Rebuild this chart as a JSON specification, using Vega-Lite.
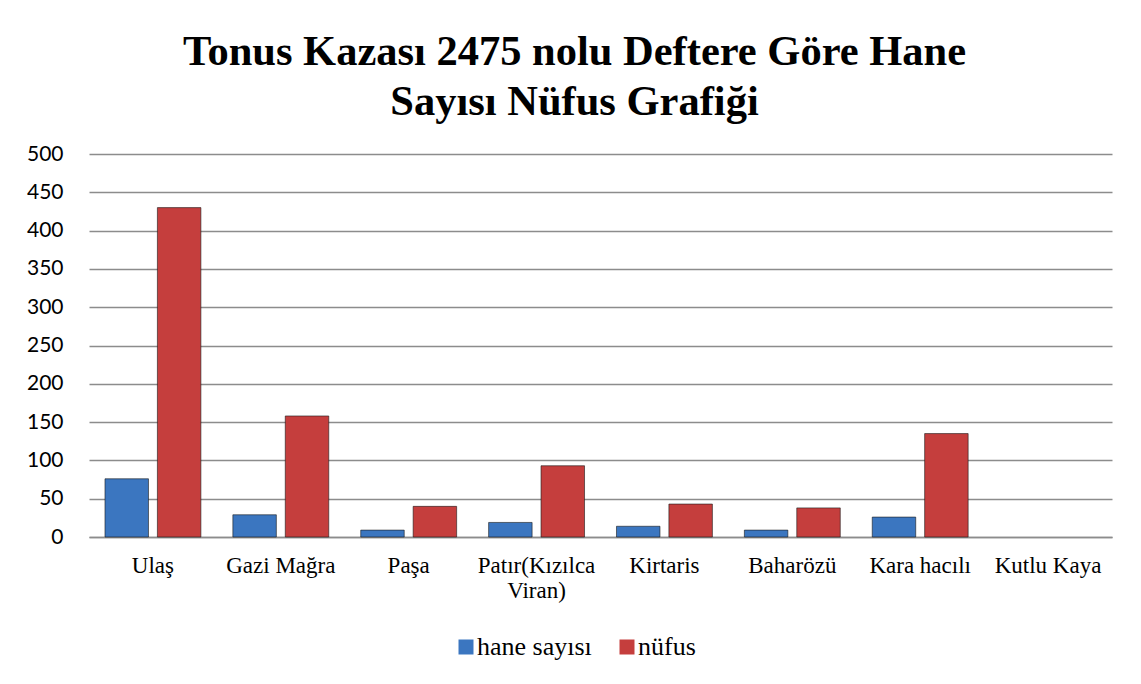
{
  "$schema": "https://vega.github.io/schema/vega-lite/v6.json",
  "width": 1023,
  "height": 383,
  "padding": {"left": 26, "top": 30, "right": 29, "bottom": 20},
  "background": "white",
  "title": {
    "text": ["Tonus Kazası 2475 nolu Deftere Göre Hane", "Sayısı Nüfus Grafiği"],
    "font": "Liberation Serif",
    "fontSize": 42.5,
    "fontWeight": "bold",
    "color": "black",
    "lineHeight": 50,
    "offset": 20,
    "dx": -26
  },
  "data": {
    "values": [
      {"koy": "Ulaş", "seri": "hane sayısı", "deger": 76},
      {"koy": "Ulaş", "seri": "nüfus", "deger": 430},
      {"koy": "Gazi Mağra", "seri": "hane sayısı", "deger": 29},
      {"koy": "Gazi Mağra", "seri": "nüfus", "deger": 158},
      {"koy": "Paşa", "seri": "hane sayısı", "deger": 9},
      {"koy": "Paşa", "seri": "nüfus", "deger": 40},
      {"koy": "Patır(Kızılca Viran)", "seri": "hane sayısı", "deger": 19},
      {"koy": "Patır(Kızılca Viran)", "seri": "nüfus", "deger": 93},
      {"koy": "Kirtaris", "seri": "hane sayısı", "deger": 14},
      {"koy": "Kirtaris", "seri": "nüfus", "deger": 43},
      {"koy": "Baharözü", "seri": "hane sayısı", "deger": 9},
      {"koy": "Baharözü", "seri": "nüfus", "deger": 38},
      {"koy": "Kara hacılı", "seri": "hane sayısı", "deger": 26},
      {"koy": "Kara hacılı", "seri": "nüfus", "deger": 135}
    ]
  },
  "mark": {"type": "bar", "stroke": "#1a1a1a", "strokeWidth": 0.6},
  "encoding": {
    "x": {
      "field": "koy",
      "type": "nominal",
      "scale": {
        "domain": ["Ulaş", "Gazi Mağra", "Paşa", "Patır(Kızılca Viran)", "Kirtaris", "Baharözü", "Kara hacılı", "Kutlu Kaya"],
        "paddingInner": 0.25,
        "paddingOuter": 0.125
      },
      "axis": {
        "title": null,
        "labelAngle": 0,
        "labelFont": "Liberation Serif",
        "labelFontSize": 23,
        "labelColor": "black",
        "ticks": false,
        "domainColor": "#8c8c8c",
        "domainWidth": 1.5,
        "labelPadding": 17,
        "labelLimit": 200,
        "labelLineHeight": 25,
        "labelExpr": "datum.label == 'Patır(Kızılca Viran)' ? ['Patır(Kızılca', 'Viran)'] : datum.label"
      }
    },
    "xOffset": {
      "field": "seri",
      "type": "nominal",
      "sort": ["hane sayısı", "nüfus"],
      "scale": {"paddingInner": 0.17}
    },
    "y": {
      "field": "deger",
      "type": "quantitative",
      "scale": {"domain": [0, 500]},
      "axis": {
        "title": null,
        "values": [0, 50, 100, 150, 200, 250, 300, 350, 400, 450, 500],
        "labelFont": "Lato",
        "labelFontSize": 21,
        "labelColor": "black",
        "labelPadding": 26,
        "ticks": false,
        "domain": false,
        "gridColor": "#8c8c8c",
        "gridWidth": 1.5
      }
    },
    "color": {
      "field": "seri",
      "type": "nominal",
      "scale": {"domain": ["hane sayısı", "nüfus"], "range": ["#3B76C0", "#C53E3D"]},
      "legend": {
        "title": null,
        "orient": "none",
        "legendX": 364,
        "legendY": 480,
        "padding": 0,
        "direction": "horizontal",
        "symbolType": "square",
        "symbolSize": 225,
        "symbolStrokeWidth": 0,
        "labelOffset": -2,
        "labelFont": "Liberation Serif",
        "labelFontSize": 26,
        "labelColor": "black",
        "columnPadding": 22
      }
    }
  },
  "config": {
    "view": {"stroke": null},
    "legend": {"labelFont": "Liberation Serif", "labelFontSize": 26}
  }
}
